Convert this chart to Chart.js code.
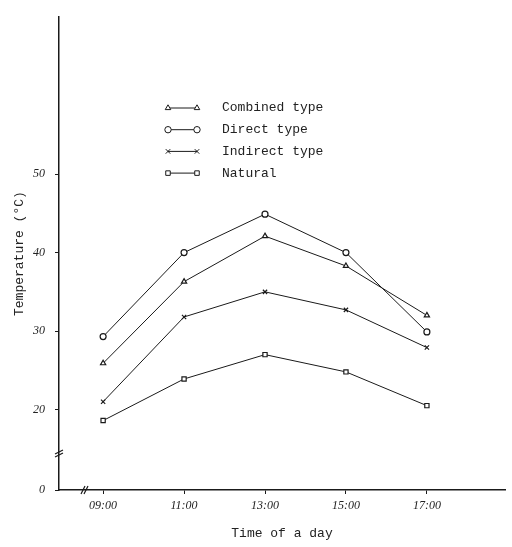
<!DOCTYPE html>
<html>
<head>
<meta charset="utf-8">
<script src="https://cdn.jsdelivr.net/npm/chart.js@4/dist/chart.umd.min.js"></script>
<style>
  html, body { margin: 0; padding: 0; background: #fff; }
  #wrap { width: 512px; height: 547px; }
</style>
</head>
<body>
<div id="wrap"><canvas id="temps" width="512" height="547"></canvas></div>
<script>
// data
var hours = [9, 11, 13, 15, 17];
var timeLabels = ['09:00', '11:00', '13:00', '15:00', '17:00'];
var combinedType = [25.9, 36.3, 42.1, 38.3, 32.0];
var directType = [29.3, 40.0, 44.9, 40.0, 29.9];
var indirectType = [21.0, 31.8, 35.0, 32.7, 27.9];
var natural = [18.6, 23.9, 27.0, 24.8, 20.5];
var yTicks = [20, 30, 40, 50];

// broken axis: bottom of the axis is labelled 0
var yBottom = 9.75, yTop = 70;

function pts(vals) {
    return hours.map(function (h, i) { return { x: h, y: vals[i] }; });
}

var ink = '#1a1a1a';
function series(label, vals, style) {
    return {
        label: label,
        data: pts(vals),
        borderColor: ink,
        borderWidth: 1,
        pointStyle: style,
        pointRadius: 3,
        pointBorderWidth: 1.2,
        pointBackgroundColor: '#fff',
        pointBorderColor: ink,
        tension: 0,
        fill: false
    };
}

// legend drawn by hand: line with a marker on each end
var handLegend = {
    id: 'handLegend',
    afterDraw: function (chart) {
        var ctx = chart.ctx;
        ctx.save();
        chart.data.datasets.forEach(function (ds, i) {
            var y = 108 + i * 21.7;
            ctx.strokeStyle = ink;
            ctx.lineWidth = 1;
            ctx.beginPath();
            ctx.moveTo(168, y);
            ctx.lineTo(197, y);
            ctx.stroke();
            var opts = { pointStyle: ds.pointStyle, radius: 3.2, rotation: 0, borderWidth: 1.2 };
            ctx.fillStyle = '#fff';
            Chart.helpers.drawPoint(ctx, opts, 168, y);
            Chart.helpers.drawPoint(ctx, opts, 197, y);
            ctx.fillStyle = '#222';
            ctx.font = '13px "Liberation Mono"';
            ctx.textBaseline = 'middle';
            ctx.textAlign = 'left';
            ctx.fillText(ds.label, 222, y);
        });
        // break marks on both axes
        var a = chart.chartArea;
        ctx.strokeStyle = ink;
        ctx.lineWidth = 1.2;
        var by = a.bottom - 38;
        ctx.beginPath();
        ctx.moveTo(a.left - 4, by + 2); ctx.lineTo(a.left + 4, by - 2);
        ctx.moveTo(a.left - 4, by + 5); ctx.lineTo(a.left + 4, by + 1);
        ctx.stroke();
        var bx = a.left + 24;
        ctx.beginPath();
        ctx.moveTo(bx - 2, a.bottom + 4); ctx.lineTo(bx + 2, a.bottom - 4);
        ctx.moveTo(bx + 1, a.bottom + 4); ctx.lineTo(bx + 5, a.bottom - 4);
        ctx.stroke();
        ctx.restore();
    }
};

var tickFont = { family: '"Liberation Serif"', size: 12, style: 'italic' };
var titleFont = { family: '"Liberation Mono"', size: 13 };

new Chart(document.getElementById('temps'), {
    type: 'line',
    data: {
        datasets: [
            series('Combined type', combinedType, 'triangle'),
            series('Direct type', directType, 'circle'),
            series('Indirect type', indirectType, 'crossRot'),
            series('Natural', natural, 'rect')
        ]
    },
    options: {
        responsive: false,
        animation: false,
        layout: { padding: { top: 7, right: 7, left: 0, bottom: 0 } },
        plugins: {
            legend: { display: false },
            tooltip: { enabled: false }
        },
        scales: {
            x: {
                type: 'linear',
                min: 7.91,
                max: 18.93,
                afterBuildTicks: function (axis) {
                    axis.ticks = hours.map(function (h) { return { value: h }; });
                },
                afterFit: function (axis) { axis.height = 57; },
                grid: { drawOnChartArea: false, drawTicks: true, tickLength: 4, color: ink },
                border: { color: ink, width: 1.5 },
                ticks: {
                    color: '#222',
                    font: tickFont,
                    padding: 5,
                    maxRotation: 0,
                    callback: function (v) {
                        var i = hours.indexOf(v);
                        return i < 0 ? '' : timeLabels[i];
                    }
                },
                title: {
                    display: true,
                    text: 'Time of a day',
                    color: '#222',
                    font: titleFont,
                    padding: { top: 0, bottom: 6 }
                }
            },
            y: {
                min: yBottom,
                max: yTop,
                afterBuildTicks: function (axis) {
                    axis.ticks = [{ value: yBottom }].concat(yTicks.map(function (v) { return { value: v }; }));
                },
                afterFit: function (axis) { axis.width = 59; },
                grid: { drawOnChartArea: false, drawTicks: true, tickLength: 4, color: ink },
                border: { color: ink, width: 1.5 },
                ticks: {
                    color: '#222',
                    font: tickFont,
                    padding: 10,
                    callback: function (v) { return v === yBottom ? '0' : String(v); }
                },
                title: {
                    display: true,
                    text: 'Temperature (°C)',
                    color: '#222',
                    font: titleFont,
                    padding: { top: 12, bottom: 0 }
                }
            }
        }
    },
    plugins: [handLegend]
});
</script>
</body>
</html>
